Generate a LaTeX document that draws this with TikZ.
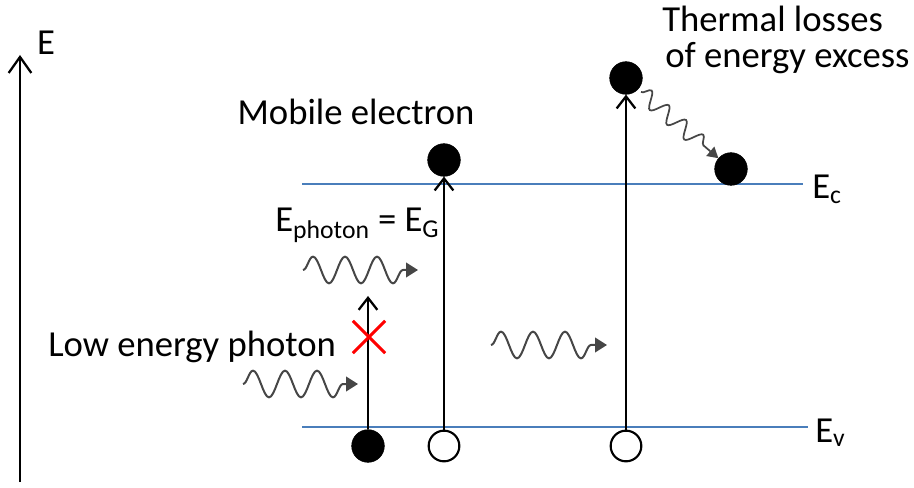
\documentclass[tikz,border=0pt]{standalone}
\usepackage{fontspec}
\setmainfont{Carlito}
\usetikzlibrary{arrows.meta,decorations.pathmorphing,shapes.misc}
\definecolor{bandblue}{RGB}{74,126,187}
\definecolor{waveg}{RGB}{70,70,70}
\begin{document}
\begin{tikzpicture}[x=0.75pt,y=-0.75pt,
  lbl/.style={font=\fontsize{27.5}{32}\selectfont, inner sep=0pt},
  band/.style={line width=1.4pt, draw=bandblue},
  uparrow/.style={line width=1.7pt, -{Straight Barb[length=9pt,width=14pt,line width=1.7pt]}},
  filled/.style={circle, fill=black, draw=black, minimum size=24.5pt, inner sep=0pt},
  hollow/.style={circle, draw=black, line width=1.6pt, fill=white, minimum size=23pt, inner sep=0pt},
  photon/.style={draw=waveg, line width=1.5pt, decorate,
    decoration={snake, amplitude=10pt, segment length=24pt, post length=10pt},
    -{Triangle[length=9pt,width=11pt]}},
  heat/.style={draw=waveg, line width=1.3pt, decorate,
    decoration={snake, amplitude=6pt, segment length=17pt, post length=10pt},
    -{Triangle[length=8pt,width=9pt]}},
  cross/.style={draw=red, cross out, line width=2.2pt, minimum size=22pt, inner sep=0pt}
]
\useasboundingbox (0,0) rectangle (914,488);

% energy axis
\coordinate (ax0) at (20,482);
\coordinate (ax1) at (20,55);
\draw[line width=1.7pt, -{Straight Barb[length=12pt,width=17pt,line width=1.7pt]}] (ax0) -- (ax1);
\node[lbl] (lE) at (46,43) {E};

% bands
\coordinate (c0) at (302,184);
\coordinate (c1) at (803,184);
\coordinate (v0) at (302,427);
\coordinate (v1e) at (808,427);
\draw[band] (c0) -- (c1);
\draw[band] (v0) -- (v1e);
\node[lbl, anchor=base west] (lEc) at (812,199) {E\textsubscript{c}};
\node[lbl, anchor=base west] (lEv) at (815,442) {E\textsubscript{v}};

% carriers
\node[filled] (v1) at (368,446) {};
\node[hollow] (h2) at (444,446) {};
\node[hollow] (h3) at (626,446) {};
\node[filled] (e2) at (444,160) {};
\node[filled] (e3) at (626,78) {};
\node[filled] (e4) at (731,169) {};

% transitions
\coordinate (blk) at (368,296);
\draw[uparrow] (v1) -- (blk);
\draw[uparrow] (h2) -- (e2);
\draw[uparrow] (h3) -- (e3);
\node[cross] (xx) at (369,337) {};

% photons
\coordinate (p1s) at (303,270);
\coordinate (p1e) at (418,270);
\draw[photon] (p1s) -- (p1e);
\coordinate (p2s) at (243,384);
\coordinate (p2e) at (358,384);
\draw[photon] (p2s) -- (p2e);
\coordinate (p3s) at (491,345);
\coordinate (p3e) at (607,345);
\draw[photon] (p3s) -- (p3e);
\coordinate (hs) at (641,92);
\draw[heat] (hs) -- (e4);

% labels
\node[lbl] (lmob) at (356,112) {Mobile electron};
\node[lbl, anchor=base west] (lph) at (275,232) {E\textsubscript{photon} = E\textsubscript{G}};
\node[lbl, anchor=base west] (llow) at (48,356) {Low energy photon};
\node[lbl, anchor=base west] (lth1) at (662,32) {Thermal losses};
\node[lbl, anchor=base west] (lth2) at (665,68) {of energy excess};
\end{tikzpicture}
\end{document}
